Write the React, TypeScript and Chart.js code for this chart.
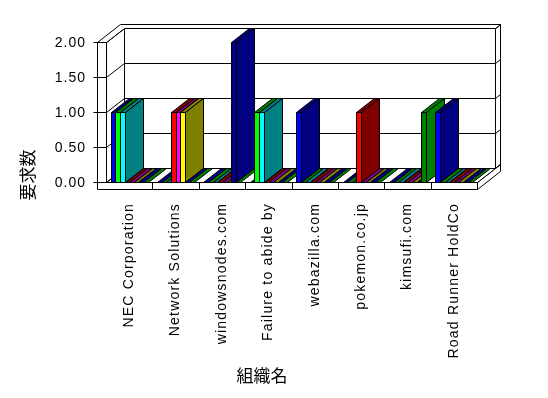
import React, { useEffect, useRef } from "react";
import { Chart, registerables } from "chart.js";

Chart.register(...registerables);

// ---- data ----
const categories = [
  "NEC Corporation",
  "Network Solutions",
  "windowsnodes.com",
  "Failure to abide by",
  "webazilla.com",
  "pokemon.co.jp",
  "kimsufi.com",
  "Road Runner HoldCo",
];
const seriesNames = ["系列1", "系列2", "系列3", "系列4", "系列5", "系列6", "系列7", "系列8"];
const series1 = [1, 0, 0, 0, 1, 0, 0, 1];
const series2 = [1, 0, 0, 1, 0, 0, 0, 0];
const series3 = [1, 0, 0, 1, 0, 0, 0, 0];
const series4 = [0, 1, 0, 0, 0, 1, 0, 0];
const series5 = [0, 1, 0, 0, 0, 0, 0, 0];
const series6 = [0, 1, 0, 0, 0, 0, 0, 0];
const series7 = [0, 0, 2, 0, 0, 0, 0, 0];
const series8 = [0, 0, 0, 0, 0, 0, 1, 0];
const seriesValues = [series1, series2, series3, series4, series5, series6, series7, series8];
const frontColors = ["#0000FF", "#00FF00", "#00FFFF", "#FF0000", "#FF00FF", "#FFFF00", "#000080", "#008000"];
const shadeColors = ["#000080", "#008000", "#008080", "#800000", "#800080", "#808000", "#000080", "#008000"];
const yMin = 0;
const yMax = 2;
const yStep = 0.5;
const yTitle = "要求数";
const xTitle = "組織名";

// ---- 3D geometry (pixels) ----
const DX = 18;
const DY = 14;
const WALL = 9;
const FLOOR = 7;
const BX = 5;
const BY = 4;

type Pt = [number, number];

function poly(ctx: CanvasRenderingContext2D, pts: Pt[], fill: string | null) {
  ctx.beginPath();
  ctx.moveTo(pts[0][0], pts[0][1]);
  for (let i = 1; i < pts.length; i++) ctx.lineTo(pts[i][0], pts[i][1]);
  ctx.closePath();
  if (fill) {
    ctx.fillStyle = fill;
    ctx.fill();
  }
  ctx.stroke();
}

function line(ctx: CanvasRenderingContext2D, pts: Pt[]) {
  ctx.beginPath();
  ctx.moveTo(pts[0][0], pts[0][1]);
  for (let i = 1; i < pts.length; i++) ctx.lineTo(pts[i][0], pts[i][1]);
  ctx.stroke();
}

const frame3d = {
  id: "frame3d",
  beforeDatasetsDraw(chart: any) {
    const ctx: CanvasRenderingContext2D = chart.ctx;
    const a = chart.chartArea;
    const ys = chart.scales.y;
    const xs = chart.scales.x;
    const L = Math.round(a.left);
    const R = Math.round(a.right);
    const T = Math.round(a.top);
    const B = Math.round(a.bottom);
    ctx.save();
    ctx.translate(0.5, 0.5);
    ctx.strokeStyle = "#000";
    ctx.lineWidth = 1;
    // back wall
    poly(ctx, [[L + DX, T - DY], [R + DX, T - DY], [R + DX, B - DY], [L + DX, B - DY]], "#fff");
    // back wall right face
    poly(ctx, [[R + DX, T - DY], [R + DX + BX, T - DY - BY], [R + DX + BX, B - DY - BY], [R + DX, B - DY]], "#fff");
    // floor right face
    poly(ctx, [[R, B], [R + DX + BX, B - DY - BY], [R + DX + BX, B + FLOOR - DY - BY], [R, B + FLOOR]], "#fff");
    // left wall inner face
    poly(ctx, [[L, T], [L + DX, T - DY], [L + DX, B - DY], [L, B]], "#fff");
    // floor top
    poly(ctx, [[L, B], [R, B], [R + DX, B - DY], [L + DX, B - DY]], "#fff");
    // grid lines
    const ticks = ys.ticks.map((t: any) => t.value);
    for (const v of ticks) {
      const yy = Math.round(ys.getPixelForValue(v));
      line(ctx, [[L - WALL - 4, yy], [L - WALL, yy]]);
      line(ctx, [[L - WALL, yy], [L, yy], [L + DX, yy - DY], [R + DX, yy - DY], [R + DX + BX, yy - DY - BY]]);
    }
    // top face of wall frame
    poly(
      ctx,
      [[L - WALL, T], [L, T], [L + DX, T - DY], [R + DX, T - DY], [R + DX + BX, T - DY - BY], [L - WALL + DX + BX, T - DY - BY]],
      "#fff"
    );
    // front L face (left wall + floor front)
    poly(ctx, [[L - WALL, T], [L, T], [L, B], [R, B], [R, B + FLOOR], [L - WALL, B + FLOOR]], "#fff");
    // ticks across the L face
    for (const v of ticks) {
      const yy = Math.round(ys.getPixelForValue(v));
      line(ctx, [[L - WALL, yy], [L, yy]]);
    }
    // category dividers on floor front
    for (let i = 0; i < categories.length - 1; i++) {
      const xb = Math.round((xs.getPixelForValue(i) + xs.getPixelForValue(i + 1)) / 2);
      line(ctx, [[xb, B], [xb, B + FLOOR]]);
    }
    ctx.restore();
  },
  afterDatasetsDraw(chart: any) {
    const ctx: CanvasRenderingContext2D = chart.ctx;
    ctx.save();
    ctx.translate(0.5, 0.5);
    ctx.strokeStyle = "#000";
    ctx.lineWidth = 1;
    for (let j = 0; j < categories.length; j++) {
      for (let k = 0; k < seriesValues.length; k++) {
        const el = chart.getDatasetMeta(k).data[j];
        if (!el) continue;
        const p = el.getProps(["x", "y", "base", "width"], true);
        const x0 = Math.round(p.x - p.width / 2);
        const x1 = Math.round(p.x + p.width / 2);
        const yt = Math.round(p.y);
        const yb = Math.round(p.base);
        poly(ctx, [[x0, yt], [x1, yt], [x1 + DX, yt - DY], [x0 + DX, yt - DY]], shadeColors[k]);
        if (yb > yt) {
          poly(ctx, [[x1, yt], [x1 + DX, yt - DY], [x1 + DX, yb - DY], [x1, yb]], shadeColors[k]);
          poly(ctx, [[x0, yt], [x1, yt], [x1, yb], [x0, yb]], frontColors[k]);
        }
      }
    }
    ctx.restore();
  },
  afterDraw(chart: any) {
    const ctx: CanvasRenderingContext2D = chart.ctx;
    const a = chart.chartArea;
    const ys = chart.scales.y;
    const xs = chart.scales.x;
    ctx.save();
    ctx.fillStyle = "#000";
    // y tick labels
    ctx.font = '14px "Liberation Sans", Arial, sans-serif';
    (ctx as any).letterSpacing = "1px";
    ctx.textAlign = "right";
    ctx.textBaseline = "middle";
    for (const t of ys.ticks) {
      const yy = ys.getPixelForValue(t.value);
      ctx.fillText(Number(t.value).toFixed(2), a.left - WALL - 11, yy + 1);
    }
    // x labels rotated
    (ctx as any).letterSpacing = "1.2px";
    for (let i = 0; i < categories.length; i++) {
      const cx = xs.getPixelForValue(i);
      ctx.save();
      ctx.translate(cx, a.bottom + 21);
      ctx.rotate(-Math.PI / 2);
      ctx.textAlign = "right";
      ctx.textBaseline = "middle";
      ctx.fillText(categories[i], 0, 0);
      ctx.restore();
    }
    // titles
    (ctx as any).letterSpacing = "0px";
    ctx.font = '17px "Noto Sans CJK JP", sans-serif';
    ctx.textAlign = "center";
    ctx.textBaseline = "middle";
    ctx.fillText(xTitle, 262, 376);
    ctx.save();
    ctx.translate(28, 175);
    ctx.rotate(-Math.PI / 2);
    ctx.fillText(yTitle, 0, 0);
    ctx.restore();
    ctx.restore();
  },
};

export default function App() {
  const ref = useRef<HTMLCanvasElement | null>(null);
  useEffect(() => {
    if (!ref.current) return;
    const chart = new Chart(ref.current, {
      type: "bar",
      data: {
        labels: categories,
        datasets: seriesValues.map((vals, k) => ({
          label: seriesNames[k],
          data: vals,
          backgroundColor: "rgba(0,0,0,0)",
          borderWidth: 0,
          categoryPercentage: 0.8,
          barPercentage: 1.0,
        })),
      },
      options: {
        responsive: false,
        animation: false,
        devicePixelRatio: 1,
        layout: { padding: { left: 106, right: 71, top: 42, bottom: 216 } },
        plugins: { legend: { display: false }, tooltip: { enabled: false }, title: { display: false } },
        scales: {
          x: { display: false, offset: true },
          y: { display: false, min: yMin, max: yMax, ticks: { stepSize: yStep } },
        },
      },
      plugins: [frame3d],
    });
    return () => chart.destroy();
  }, []);
  return (
    <div style={{ position: "fixed", left: 0, top: 0, width: 548, height: 398, background: "#fff" }}>
      <canvas ref={ref} width={548} height={398} style={{ width: 548, height: 398, display: "block" }} />
    </div>
  );
}
